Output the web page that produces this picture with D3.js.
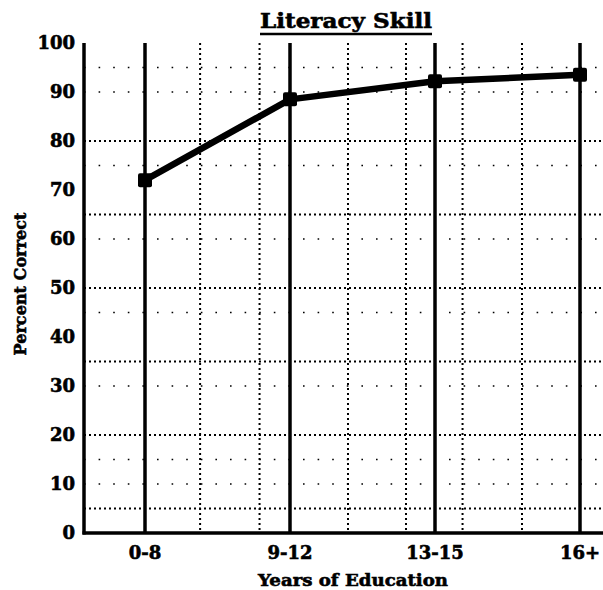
<!DOCTYPE html>
<html>
<head>
<meta charset="UTF-8">
<title>Literacy Skill</title>
<script src="https://d3js.org/d3.v7.min.js"></script>
<style>
html, body { margin: 0; padding: 0; background: #fff; }
svg text { font-family: "DejaVu Serif", serif; font-weight: bold; fill: #000; stroke: #000; stroke-width: 0.6px; }
</style>
</head>
<body>
<div id="chart"></div>
<script>
// data
var categories = ["0-8", "9-12", "13-15", "16+"];
var percentCorrect = [72, 88.5, 92.2, 93.5];
var yTicks = [0, 10, 20, 30, 40, 50, 60, 70, 80, 90, 100];
// grid lines as printed (dense and faint rows, dotted columns between categories)
var denseRows = [5, 20, 35, 50, 65, 80];
var faintRows = [10, 15, 30, 45, 60, 75, 90, 95];
var dottedCols = [0.38, 0.79, 1.4, 1.8, 2.19, 2.6];

(function() {
var W = 603, H = 590;
var mLeft = 84, mRight = 603, mTop = 43, mBottom = 533;

var svg = d3.select("#chart").append("svg")
  .attr("width", W).attr("height", H);

var y = d3.scaleLinear().domain([0, 100]).range([mBottom, mTop]);
var x = d3.scaleLinear().domain([0, 3]).range([145, 580]);

// horizontal dotted grid
svg.selectAll(".dense").data(denseRows).enter().append("line")
  .attr("x1", mLeft).attr("x2", mRight)
  .attr("y1", function(d){ return y(d); }).attr("y2", function(d){ return y(d); })
  .attr("stroke", "#000").attr("stroke-width", 2)
  .attr("stroke-dasharray", "2,3");

svg.selectAll(".faint").data(faintRows).enter().append("line")
  .attr("x1", mLeft).attr("x2", mRight)
  .attr("y1", function(d){ return y(d); }).attr("y2", function(d){ return y(d); })
  .attr("stroke", "#000").attr("stroke-width", 1.6)
  .attr("stroke-dasharray", "1.6,13");

// vertical dotted grid
svg.selectAll(".vdot").data(dottedCols).enter().append("line")
  .attr("x1", function(d){ return x(d); }).attr("x2", function(d){ return x(d); })
  .attr("y1", mTop).attr("y2", mBottom)
  .attr("stroke", "#000").attr("stroke-width", 2)
  .attr("stroke-dasharray", "2,3");

// solid category lines
svg.selectAll(".vcat").data(categories).enter().append("line")
  .attr("x1", function(d, i){ return x(i); }).attr("x2", function(d, i){ return x(i); })
  .attr("y1", mTop).attr("y2", mBottom)
  .attr("stroke", "#000").attr("stroke-width", 3.5);

// axes
svg.append("line").attr("x1", mLeft).attr("x2", mLeft)
  .attr("y1", mTop).attr("y2", mBottom + 1.5)
  .attr("stroke", "#000").attr("stroke-width", 3.5);
svg.append("line").attr("x1", mLeft - 1.5).attr("x2", mRight)
  .attr("y1", mBottom).attr("y2", mBottom)
  .attr("stroke", "#000").attr("stroke-width", 3.5);

// y tick labels
svg.selectAll(".ylab").data(yTicks).enter().append("text")
  .attr("x", 75).attr("y", function(d){ return y(d); })
  .attr("dy", "0.36em").attr("text-anchor", "end")
  .attr("font-size", 18)
  .text(function(d){ return d; });

// x tick labels
svg.selectAll(".xlab").data(categories).enter().append("text")
  .attr("x", function(d, i){ return x(i); }).attr("y", 559)
  .attr("text-anchor", "middle").attr("font-size", 18)
  .text(function(d){ return d; });

// data line + markers
var line = d3.line()
  .x(function(d, i){ return x(i); })
  .y(function(d){ return y(d); });

svg.append("path").datum(percentCorrect)
  .attr("d", line).attr("fill", "none")
  .attr("stroke", "#000").attr("stroke-width", 6.5)
  .attr("stroke-linejoin", "round");

svg.selectAll(".mark").data(percentCorrect).enter().append("rect")
  .attr("x", function(d, i){ return x(i) - 7; })
  .attr("y", function(d){ return y(d) - 7; })
  .attr("width", 14).attr("height", 14)
  .attr("rx", 2).attr("fill", "#000");

// titles
svg.append("text")
  .attr("x", 346).attr("y", 28)
  .attr("text-anchor", "middle").attr("font-size", 21)
  .attr("textLength", 172).attr("lengthAdjust", "spacingAndGlyphs")
  .text("Literacy Skill");
svg.append("line")
  .attr("x1", 346 - 86).attr("x2", 346 + 86)
  .attr("y1", 34).attr("y2", 34)
  .attr("stroke", "#000").attr("stroke-width", 2.5);

svg.append("text")
  .attr("x", 353).attr("y", 586)
  .attr("text-anchor", "middle").attr("font-size", 17)
  .attr("textLength", 190).attr("lengthAdjust", "spacingAndGlyphs")
  .text("Years of Education");

svg.append("text")
  .attr("transform", "translate(26,284) rotate(-90)")
  .attr("text-anchor", "middle").attr("font-size", 17)
  .attr("textLength", 143).attr("lengthAdjust", "spacingAndGlyphs")
  .text("Percent Correct");
})();
</script>
</body>
</html>
